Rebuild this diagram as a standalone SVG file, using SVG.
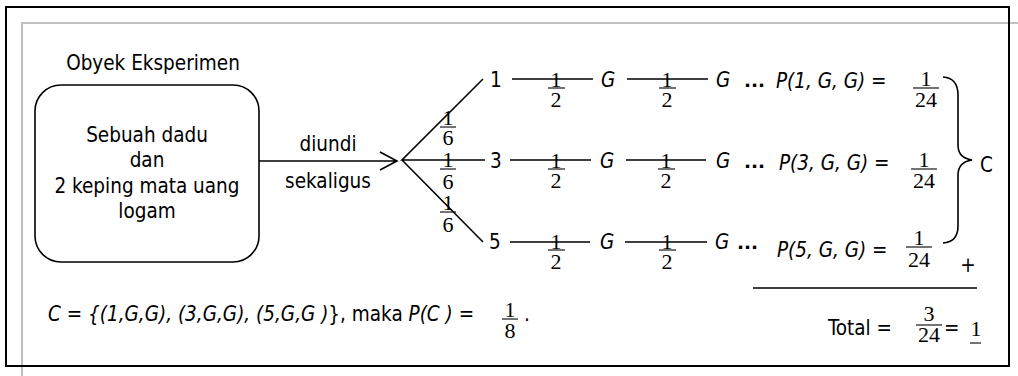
<svg xmlns="http://www.w3.org/2000/svg" width="1018" height="376" viewBox="0 0 1018 376">
<style>
.s{font-family:"DejaVu Sans Condensed","DejaVu Sans",Verdana,sans-serif;font-stretch:condensed;font-size:20.5px;fill:#000}
.i{font-style:italic}
.f{font-family:"Liberation Serif","Times New Roman",serif;font-size:22px;fill:#000;text-anchor:middle}
.c{text-anchor:middle}
.ln{stroke:#000;stroke-width:1.6;fill:none}
.bar{stroke:#000;stroke-width:1.1}
.dots{font-family:"DejaVu Sans",Verdana,sans-serif;font-size:18.5px;font-weight:bold}
</style>
<rect width="1018" height="376" fill="#fff"/>
<g id="frame">
<path d="M22 376 V23 H1018" stroke="#c0c0c0" stroke-width="2" fill="none"/>
<rect x="6" y="7" width="1003" height="359" fill="none" stroke="#000" stroke-width="2"/>
</g>
<g id="experiment">
<text class="s c" x="153" y="70">Obyek Eksperimen</text>
<rect x="35" y="85" width="224" height="177" rx="26" fill="#fff" stroke="#000" stroke-width="1.6"/>
<text class="s c" x="147" y="142">Sebuah dadu</text>
<text class="s c" x="147" y="167">dan</text>
<text class="s c" x="147" y="193">2 keping mata uang</text>
<text class="s c" x="147" y="218">logam</text>
</g>
<g id="connectors">
<path class="ln" d="M259 161 H397 M380 152 L397 161 L380 170"/>
<path class="ln" d="M483 79 L402 160 L485 160 M402 160 L483 242"/>
<path class="ln" d="M512 79 H593 M627 79 H708"/>
<path class="ln" d="M510 160 H591 M626 160 H706"/>
<path class="ln" d="M510 242 H590 M625 242 H707"/>
<path class="ln" d="M943 77 Q958 78 958 95 V145 Q958 158 972 160 Q958 162 958 175 V226 Q958 242 943 243"/>
<path class="ln" d="M753 288 H977"/>
</g>
<g id="label-diundi">
<text class="s c" x="328" y="151">diundi</text>
<text class="s c" x="328" y="188">sekaligus</text>
</g>
<g id="branch-fractions">
<text class="f" x="448" y="125">1</text><line class="bar" x1="440" y1="127" x2="456" y2="127"/><text class="f" x="448" y="145">6</text>
<text class="f" x="448" y="167">1</text><line class="bar" x1="440" y1="169" x2="456" y2="169"/><text class="f" x="448" y="189">6</text>
<text class="f" x="448" y="210">1</text><line class="bar" x1="440" y1="212" x2="456" y2="212"/><text class="f" x="448" y="232">6</text>
</g>
<g id="row1">
<text class="s" x="490" y="87">1</text>
<text class="f" x="556" y="87">1</text><line class="bar" x1="548" y1="88" x2="565" y2="88"/><text class="f" x="556" y="107">2</text>
<text class="s i" x="601" y="87">G</text>
<text class="f" x="667" y="87">1</text><line class="bar" x1="659" y1="88" x2="676" y2="88"/><text class="f" x="667" y="107">2</text>
<text class="s i" x="716" y="87">G</text>
<text class="dots" x="744" y="87">...</text>
<text class="s i" x="776" y="88">P(1, G, G) =</text>
<text class="f" x="926" y="86">1</text><line class="bar" x1="913" y1="88" x2="939" y2="88"/><text class="f" x="926" y="107">24</text>
</g>
<g id="row2">
<text class="s" x="490" y="168">3</text>
<text class="f" x="556" y="168">1</text><line class="bar" x1="548" y1="169" x2="565" y2="169"/><text class="f" x="556" y="188">2</text>
<text class="s i" x="600" y="168">G</text>
<text class="f" x="666" y="168">1</text><line class="bar" x1="658" y1="169" x2="675" y2="169"/><text class="f" x="666" y="188">2</text>
<text class="s i" x="716" y="168">G</text>
<text class="dots" x="744" y="168">...</text>
<text class="s i" x="779" y="170">P(3, G, G) =</text>
<text class="f" x="924" y="167">1</text><line class="bar" x1="911" y1="169" x2="937" y2="169"/><text class="f" x="924" y="188">24</text>
</g>
<g id="row3">
<text class="s" x="489" y="249">5</text>
<text class="f" x="556" y="249">1</text><line class="bar" x1="548" y1="250" x2="565" y2="250"/><text class="f" x="556" y="269">2</text>
<text class="s i" x="600" y="249">G</text>
<text class="f" x="667" y="249">1</text><line class="bar" x1="659" y1="250" x2="676" y2="250"/><text class="f" x="667" y="269">2</text>
<text class="s i" x="715" y="249">G</text>
<text class="dots" x="737" y="249">...</text>
<text class="s i" x="777" y="257">P(5, G, G) =</text>
<text class="f" x="919" y="245">1</text><line class="bar" x1="906" y1="247" x2="932" y2="247"/><text class="f" x="919" y="267">24</text>
</g>
<g id="set-C">
<text class="s" x="980" y="172">C</text>
</g>
<g id="total">
<text class="s c" x="968" y="272">+</text>
<text class="s" x="828" y="335">Total =</text>
<text class="f" x="929" y="321">3</text><line class="bar" x1="916" y1="325" x2="942" y2="325"/><text class="f" x="929" y="342">24</text>
<text class="s" x="944" y="335">=</text>
<text class="f" x="976" y="336">1</text><line class="bar" x1="970" y1="343" x2="981" y2="343"/>
</g>
<g id="conclusion">
<text class="s" x="48" y="321"><tspan class="i">C = {(1,G,G), (3,G,G), (5,G,G )</tspan>}, maka <tspan class="i">P(C ) =</tspan></text>
<text class="f" x="510" y="317">1</text><line class="bar" x1="502" y1="319" x2="518" y2="319"/><text class="f" x="510" y="338">8</text>
<text class="s" x="524" y="321">.</text>
</g>
</svg>
